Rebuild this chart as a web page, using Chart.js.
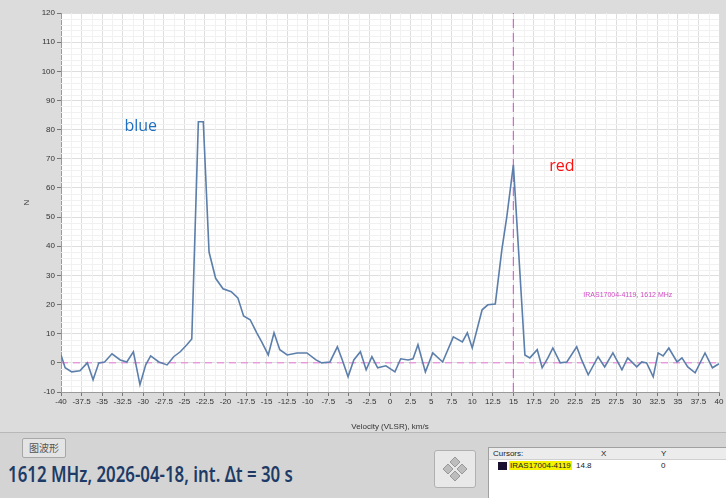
<!DOCTYPE html>
<html>
<head>
<meta charset="utf-8">
<script src="https://cdn.jsdelivr.net/npm/chart.js@4.4.1/dist/chart.umd.min.js"></script>
<style>
  html, body { margin: 0; padding: 0; }
  body { width: 726px; height: 498px; background: #d4d4d4; overflow: hidden; position: relative; font-family: "Liberation Sans", Arial, sans-serif; }
  #frame { position: absolute; left: 0; top: 0; width: 726px; height: 432px; background: #dcdcdc; border-bottom: 1px solid #b8b8b8; }
  #bottom { position: absolute; left: 0; top: 433px; width: 726px; height: 65px; background: #d4d4d4; }
  #btn { position: absolute; left: 22px; top: 5px; width: 42px; height: 18px; background: #e4e4e4; border: 1px solid #a8a8a8; border-radius: 2px; font: 10px "Noto Sans CJK SC", sans-serif; color: #555; text-align: center; line-height: 18px; }
  #title { position: absolute; left: 8px; top: 25px; font: 600 22px "Noto Sans", sans-serif; color: #1d3b66; white-space: nowrap; transform: scaleX(0.765); transform-origin: 0 0; }
  #diamond { position: absolute; left: 434px; top: 17px; width: 40px; height: 36px; background: #e8e8e8; border: 1px solid #b0b0b0; border-radius: 3px; }
  #cursors { position: absolute; left: 488px; top: 14px; width: 238px; height: 51px; background: #ffffff; border: 1px solid #a0a0a0; border-right: none; font: 8px "Liberation Sans", Arial, sans-serif; color: #222; }
  #cursors .hdr { height: 11px; background: #ececec; border-bottom: 1px solid #d0d0d0; position: relative; }
  #cursors span { position: absolute; }
  .sq { position: absolute; left: 9px; top: 14px; width: 9px; height: 8px; background: #1a1030; }
  .name { position: absolute; left: 20px; top: 13px; background: #f5f200; padding: 0 1px; }
</style>
</head>
<body>
<div id="frame"><canvas id="chart" width="726" height="432"></canvas></div>
<div id="bottom">
  <div id="btn">图波形</div>
  <div id="title">1612 MHz, 2026-04-18, int. Δt = 30 s</div>
  <div id="diamond">
    <svg width="40" height="36" viewBox="0 0 40 36">
      <g fill="#bdbdbd" stroke="#8a8a8a" stroke-width="0.8">
        <polygon points="20,6 25,11 20,16 15,11"/>
        <polygon points="13,13 18,18 13,23 8,18"/>
        <polygon points="27,13 32,18 27,23 22,18"/>
        <polygon points="20,20 25,25 20,30 15,25"/>
      </g>
    </svg>
  </div>
  <div id="cursors">
    <div class="hdr"><span style="left:4px;top:1px">Cursors:</span><span style="left:112px;top:1px">X</span><span style="left:172px;top:1px">Y</span></div>
    <div class="sq"></div>
    <span class="name">IRAS17004-4119</span>
    <span style="left:87px;top:13px">14.8</span>
    <span style="left:172px;top:13px">0</span>
  </div>
</div>
<script>
// spectrum: velocity (km/s) and N
var velocity = [-40, -39.5, -38.7, -37.7, -36.8, -36.1, -35.4, -34.7, -33.8, -32.8, -32.0, -31.2, -30.4, -29.7, -29.1, -28.1, -27.1, -26.3, -25.5, -24.7, -24.1,
  -23.3, -22.7, -22.0, -21.2, -20.3, -19.3, -18.5, -17.8, -17.0, -16.2, -15.6, -14.8, -14.1, -13.4, -12.5, -11.3, -10.1, -9.0, -8.3, -7.3,
  -6.4, -5.8, -5.1, -4.4, -3.6, -2.9, -2.2, -1.5, -0.5, 0.6, 1.3, 2.2, 2.8, 3.4, 4.3, 5.2, 6.4, 7.7, 8.8, 9.4, 10.0,
  11.2, 11.9, 12.8, 13.6, 14.2, 15.0, 16.4, 17.0, 17.9, 18.5, 19.2, 19.8, 20.7, 21.5, 22.7, 23.3, 24.1, 25.3, 26.1, 27.1,
  28.2, 28.9, 30.0, 30.6, 31.2, 32.0, 32.6, 33.2, 33.9, 34.9, 35.5, 36.2, 37.1, 38.3, 39.2, 40.0];
var counts = [2.7, -1.7, -3.1, -2.7, 0, -5.8, 0, 0.3, 3.1, 1.0, 0.3, 3.8, -7.5, -0.7, 2.4, 0.3, -0.7, 2.1, 3.8, 6.2, 8.2,
  82.7, 82.7, 38, 29, 25.4, 24.4, 22.3, 16.1, 14.8, 10.3, 7.2, 2.7, 10.3, 4.5, 2.7, 3.4, 3.4, 1.0, 0, 0.3,
  5.5, 1.0, -4.8, 1.0, 3.8, -2.4, 2.1, -1.7, -1.0, -3.1, 1.4, 1.0, 1.4, 6.2, -3.1, 3.4, 0.3, 8.9, 7.2, 10.3, 5.1,
  18.2, 19.9, 20.2, 38.8, 50.1, 67.9, 2.7, 1.7, 4.5, -1.7, 1.7, 5.1, 0, 0.3, 5.5, 1.0, -4.1, 2.1, -1.4, 3.4,
  -2.4, 1.7, -1.4, 0.3, 0, -4.8, 3.4, 2.4, 5.1, 0.3, 1.7, -1.4, -3.4, 3.4, -1.7, -0.3];

var xTicks = [-40, -37.5, -35, -32.5, -30, -27.5, -25, -22.5, -20, -17.5, -15, -12.5, -10, -7.5, -5, -2.5, 0,
  2.5, 5, 7.5, 10, 12.5, 15, 17.5, 20, 22.5, 25, 27.5, 30, 32.5, 35, 37.5, 40];
var yTicks = [-10, 0, 10, 20, 30, 40, 50, 60, 70, 80, 90, 100, 110, 120];

var cursorX = 15;
var baseY = 0;
var curveName = 'IRAS17004-4119, 1612 MHz';

var points = velocity.map(function (v, i) { return { x: v, y: counts[i] }; });

var notes = [
  { text: 'blue', x: -30.3, y: 81, color: '#1f6fc0', font: '16px "Open Sans", sans-serif', align: 'center' },
  { text: 'red', x: 20.9, y: 67.3, color: '#ff1010', font: '16px "Open Sans", sans-serif', align: 'center' },
  { text: curveName, x: 23.5, y: 23.3, color: '#d04cc4', font: '7px "Liberation Sans", sans-serif', align: 'left' }
];

// faint minor grid between the major ticks
var minorGrid = {
  id: 'minorGrid',
  beforeDatasetsDraw: function (chart) {
    var ctx = chart.ctx, xs = chart.scales.x, ys = chart.scales.y, a = chart.chartArea;
    ctx.save();
    ctx.strokeStyle = '#f1f1f1';
    ctx.lineWidth = 1;
    for (var i = 0; i < xTicks.length - 1; i++) {
      var px = Math.round(xs.getPixelForValue((xTicks[i] + xTicks[i + 1]) / 2)) + 0.5;
      ctx.beginPath(); ctx.moveTo(px, a.top); ctx.lineTo(px, a.bottom); ctx.stroke();
    }
    for (var j = 0; j < yTicks.length - 1; j++) {
      for (var k = 1; k < 5; k++) {
        var py = Math.round(ys.getPixelForValue(yTicks[j] + k * 2)) + 0.5;
        ctx.beginPath(); ctx.moveTo(a.left, py); ctx.lineTo(a.right, py); ctx.stroke();
      }
    }
    ctx.restore();
  }
};

var textNotes = {
  id: 'textNotes',
  afterDatasetsDraw: function (chart) {
    var ctx = chart.ctx, xs = chart.scales.x, ys = chart.scales.y;
    ctx.save();
    notes.forEach(function (n) {
      ctx.font = n.font;
      ctx.fillStyle = n.color;
      ctx.textAlign = n.align;
      ctx.textBaseline = 'middle';
      ctx.fillText(n.text, xs.getPixelForValue(n.x), ys.getPixelForValue(n.y));
    });
    ctx.restore();
  }
};

var plotBg = {
  id: 'plotBg',
  beforeDraw: function (chart) {
    var a = chart.chartArea, ctx = chart.ctx;
    ctx.save();
    ctx.fillStyle = '#ffffff';
    ctx.fillRect(a.left, a.top, a.right - a.left, a.bottom - a.top);
    ctx.restore();
  }
};

new Chart(document.getElementById('chart'), {
  type: 'line',
  data: {
    datasets: [
      {
        label: curveName,
        data: points,
        borderColor: '#5b7eab',
        borderWidth: 1.6,
        pointRadius: 0,
        tension: 0,
        order: 0
      },
      {
        label: 'zero',
        data: [{ x: -40, y: baseY }, { x: 40, y: baseY }],
        borderColor: '#e878d8',
        borderWidth: 1,
        borderDash: [7, 5],
        pointRadius: 0,
        order: 1
      },
      {
        label: 'cursor',
        data: [{ x: cursorX, y: -10 }, { x: cursorX, y: 120 }],
        borderColor: '#e060cc',
        borderWidth: 1.2,
        borderDash: [9, 5],
        pointRadius: 0,
        order: 1
      }
    ]
  },
  options: {
    responsive: false,
    animation: false,
    events: [],
    layout: { padding: { left: 0, right: 7, top: 13, bottom: 0 } },
    plugins: { legend: { display: false }, tooltip: { enabled: false } },
    scales: {
      x: {
        type: 'linear',
        min: -40,
        max: 40,
        afterBuildTicks: function (s) { s.ticks = xTicks.map(function (v) { return { value: v }; }); },
        afterFit: function (s) { s.height = 40; },
        ticks: { autoSkip: false, maxRotation: 0, font: { size: 8, family: '"Liberation Sans", Arial' }, color: '#333', padding: 1 },
        grid: { color: '#dedede', tickColor: '#777', tickLength: 4 },
        border: { color: '#9a9a9a' },
        title: { display: true, text: 'Velocity (VLSR), km/s', font: { size: 8, family: '"Liberation Sans", Arial' }, color: '#333', padding: { top: 3, bottom: 0 } }
      },
      y: {
        min: -10,
        max: 120,
        afterBuildTicks: function (s) { s.ticks = yTicks.map(function (v) { return { value: v }; }); },
        afterFit: function (s) { s.width = 61; },
        ticks: { font: { size: 8, family: '"Liberation Sans", Arial' }, color: '#333', padding: 2 },
        grid: { color: '#dedede', tickColor: '#777', tickLength: 4 },
        border: { color: '#9a9a9a' },
        title: { display: true, text: 'N', font: { size: 8, family: '"Liberation Sans", Arial' }, color: '#333', padding: { top: 22, bottom: 0 } }
      }
    }
  },
  plugins: [plotBg, minorGrid, textNotes]
});
</script>
</body>
</html>
